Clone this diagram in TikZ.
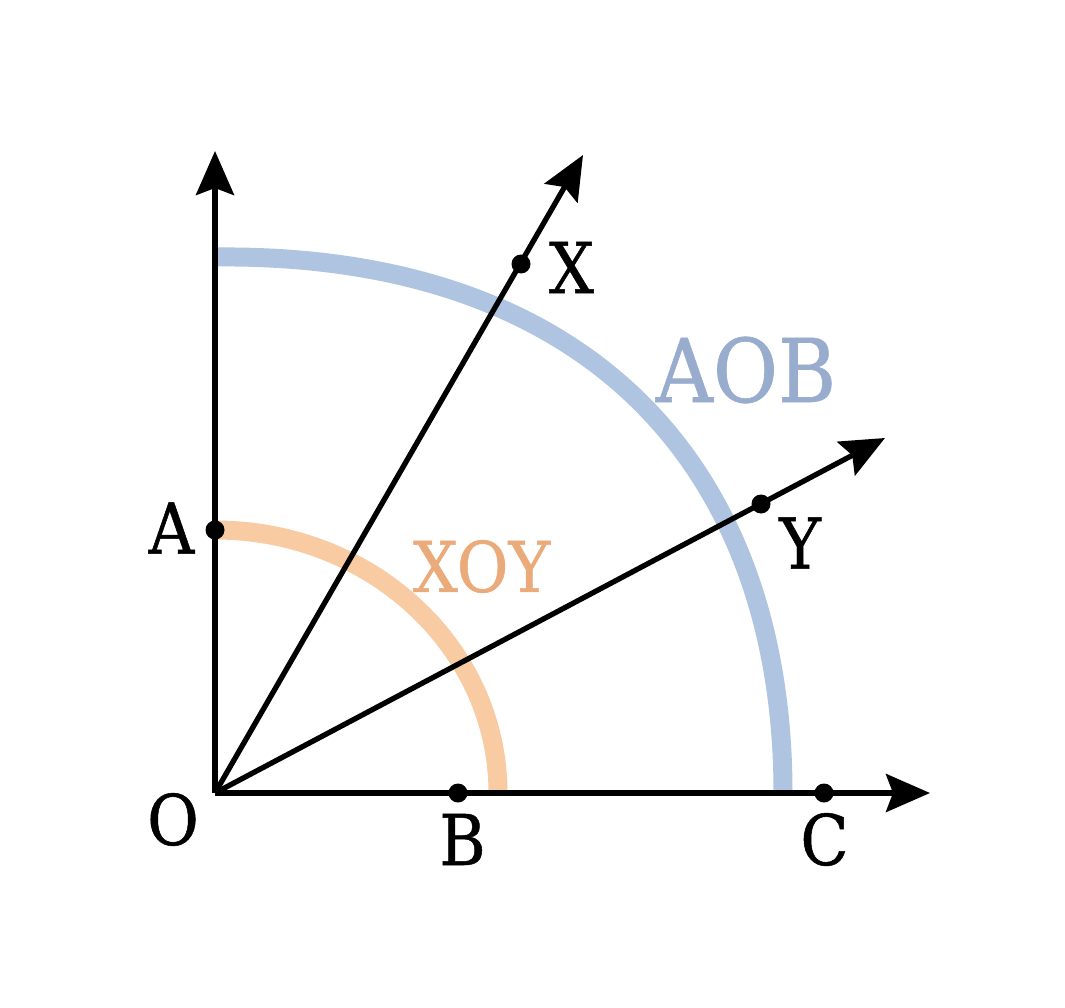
\documentclass[tikz,border=0pt]{standalone}
\usepackage{fontspec}
\setmainfont{DejaVu Serif}[FakeStretch=0.9,FakeBold=0.7]
\usetikzlibrary{arrows.meta}
\definecolor{arcblue}{RGB}{175,196,225}
\definecolor{txtblue}{RGB}{152,172,206}
\definecolor{arcorange}{RGB}{248,203,162}
\definecolor{txtorange}{RGB}{234,170,122}
\begin{document}
\begin{tikzpicture}[x=1pt,y=-1pt,
  axis/.style={line width=5.3pt, -{Stealth[length=44pt,width=38pt,inset=7pt]}},
  dot/.style={circle, fill=black, inner sep=0pt, minimum size=19pt},
  lbl/.style={inner sep=0pt, font=\fontsize{70}{84}\selectfont},
  biglbl/.style={inner sep=0pt, font=\fontsize{88}{100}\selectfont},
  arcline/.style={line width=19pt}]
\useasboundingbox (0,0) rectangle (1065,1008);
\fill[white] (0,0) rectangle (1065,1008);
% coordinates
\coordinate (O) at (215,793);
\coordinate (tipV) at (215,151);
\coordinate (tipH) at (930,793);
\coordinate (tipX) at (583,155);
\coordinate (tipY) at (885,438);
% arcs
\draw[arcline, arcorange] (215,530) arc[start angle=-90, end angle=0, x radius=283, y radius=263];
\draw[arcline, arcblue] (215,257) .. controls (595,253) and (783,473) .. (783,793);
% rays
\draw[axis] (O) -- (tipV);
\draw[axis] (O) -- (tipH);
\draw[axis] (O) -- (tipX);
\draw[axis] (O) -- (tipY);
% dots
\node[dot] (A) at (215,530) {};
\node[dot] (B) at (458,793) {};
\node[dot] (C) at (824,793) {};
\node[dot] (X) at (521,264) {};
\node[dot] (Y) at (761,504) {};
% labels
\node[lbl] (lA) at (171.5,528) {A};
\node[lbl] (lO) at (173,819.5) {O};
\node[lbl] (lB) at (462.5,839.5) {B};
\node[lbl] (lC) at (824.5,839.5) {C};
\node[lbl] (lX) at (571.5,267.5) {X};
\node[lbl] (lY) at (800,543) {Y};
\node[lbl, text=txtorange] (lXOY) at (481.5,566.5) {XOY};
\node[biglbl, text=txtblue] (lAOB) at (746,370) {AOB};
\end{tikzpicture}
\end{document}
